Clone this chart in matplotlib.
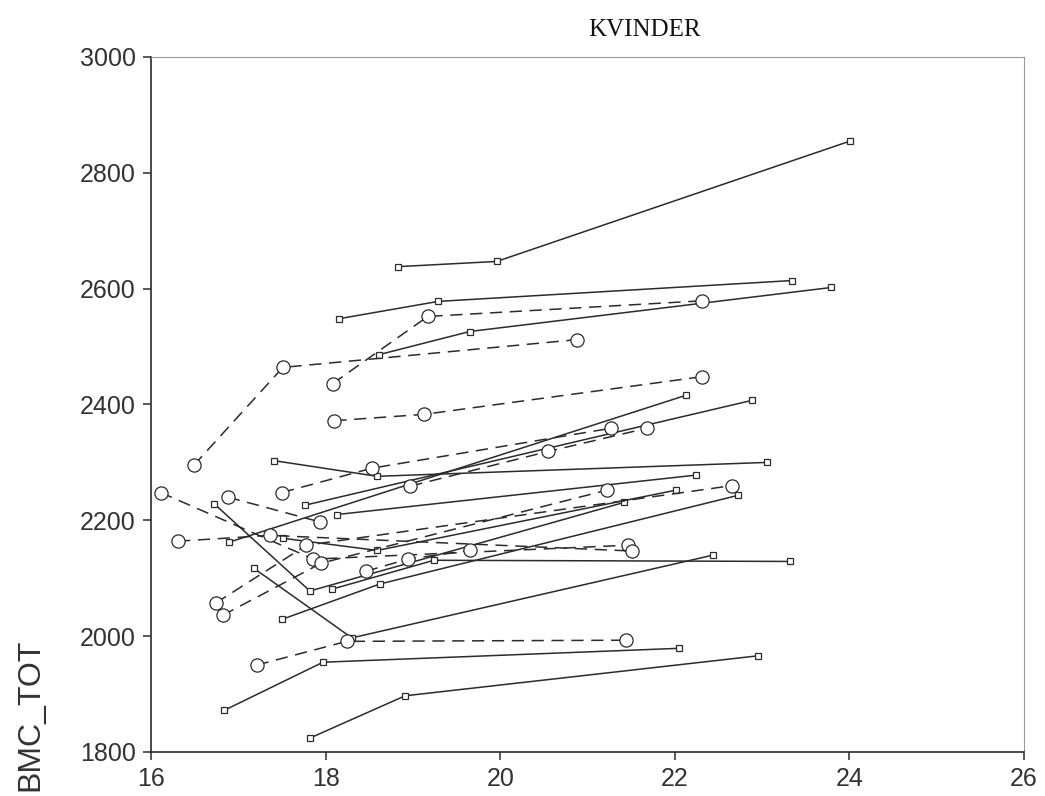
import matplotlib.pyplot as plt

# Squares joined by solid lines (one list per subject)
solid_age = [
    [18.83, 19.96, 24.01],
    [18.15, 19.29, 23.34],
    [18.61, 19.65, 23.79],
    [16.84, 17.97, 22.05],
    [17.82, 18.91, 22.95],
    [17.18, 18.30, 22.44],
    [17.50, 18.62, 22.72],
    [16.72, 17.82, 21.42],
    [17.51, 18.59, 22.01],
    [18.07, 19.24, 23.32],
    [16.89, 22.13],
    [17.76, 22.88],
    [17.41, 18.59, 23.06],
    [18.13, 22.24],
]
solid_bmc = [
    [2638, 2647, 2855],
    [2548, 2578, 2614],
    [2486, 2526, 2602],
    [1872, 1955, 1979],
    [1824, 1897, 1966],
    [2117, 1997, 2140],
    [2029, 2090, 2243],
    [2229, 2078, 2231],
    [2169, 2148, 2252],
    [2081, 2131, 2129],
    [2162, 2416],
    [2226, 2407],
    [2303, 2276, 2300],
    [2210, 2278],
]

# Circles joined by dashed lines
dashed_age = [
    [16.49, 17.51, 20.88],
    [18.08, 19.17, 22.31],
    [18.10, 19.13, 22.31],
    [17.21, 18.24, 21.44],
    [16.11, 17.86, 21.46],
    [16.31, 17.36, 21.51],
    [16.88, 17.94],
    [17.50, 18.53, 21.27],
    [16.74, 17.78, 22.66],
    [16.82, 17.95, 21.22],
    [18.97, 20.55, 21.68],
    [18.46, 18.94, 19.65],
]
dashed_bmc = [
    [2295, 2464, 2512],
    [2436, 2552, 2579],
    [2372, 2383, 2448],
    [1950, 1991, 1993],
    [2248, 2133, 2157],
    [2164, 2174, 2147],
    [2240, 2197],
    [2248, 2290, 2359],
    [2057, 2157, 2260],
    [2036, 2126, 2252],
    [2259, 2319, 2359],
    [2112, 2133, 2148],
]

ink = '#2b2b2b'

fig = plt.figure(figsize=(10.45, 7.96), dpi=100)
ax = fig.add_axes([0.1445, 0.0553, 0.8355, 0.8731])

for a, b in zip(solid_age, solid_bmc):
    ax.plot(a, b, color=ink, lw=1.1, marker='s', ms=5, mfc='white',
            mec=ink, mew=0.9)

for a, b in zip(dashed_age, dashed_bmc):
    ax.plot(a, b, color=ink, lw=1.1, ls=(0, (8, 5)), marker='o', ms=9.5,
            mfc='white', mec=ink, mew=0.9)

ax.set_xlim(16, 26)
ax.set_ylim(1800, 3000)
ax.set_xticks([16, 18, 20, 22, 24, 26])
ax.set_yticks([1800, 2000, 2200, 2400, 2600, 2800, 3000])

for s in ['left', 'bottom']:
    ax.spines[s].set_color(ink)
    ax.spines[s].set_linewidth(1.2)
for s in ['top', 'right']:
    ax.spines[s].set_color('#9a9a9a')
    ax.spines[s].set_linewidth(0.8)

ax.tick_params(direction='out', length=6, width=1.1, color=ink,
               labelsize=18, labelcolor='#333333', pad=5)
for lab in ax.get_xticklabels() + ax.get_yticklabels():
    lab.set_fontfamily('Liberation Sans')

fig.text(0.617, 0.962, 'KVINDER', ha='center', va='center',
         fontsize=18, family='Liberation Serif', color='#111111')
fig.text(0.029, 0.102, 'BMC_TOT', rotation=90, ha='center', va='center',
         fontsize=23, family='Liberation Sans', color='#333333')

fig.savefig('out.png', dpi=100, facecolor='white')
